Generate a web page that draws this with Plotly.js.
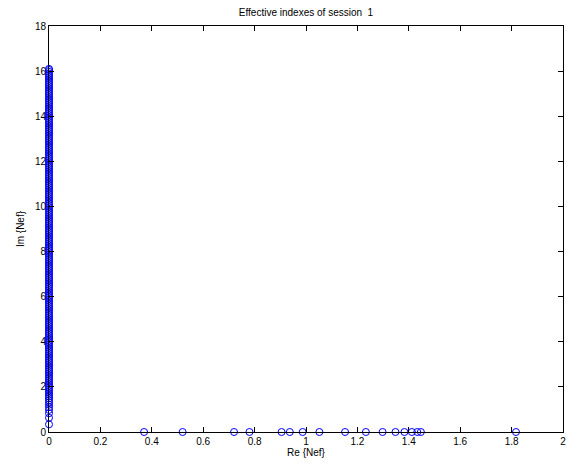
<!DOCTYPE html>
<html>
<head>
<meta charset="utf-8">
<script src="https://cdn.plot.ly/plotly-3.0.1.min.js"></script>
<style>html,body{margin:0;padding:0;background:#fff;}#chart{width:568px;height:470px;}</style>
</head>
<body>
<div id="chart"></div>
<script>
// Effective indexes lying on the real axis (Im = 0)
const realParts = [0.37, 0.52, 0.72, 0.78, 0.905, 0.937, 0.987, 1.052, 1.152, 1.233, 1.298, 1.348, 1.383, 1.412, 1.433, 1.447, 1.817];
// Effective indexes lying on the imaginary axis (Re = 0)
const imagParts = [0.34, 0.63, 0.83, 0.98, 1.1, 1.21, 1.31, 1.40, 1.49, 1.57, 1.65, 1.73, 1.81, 1.89, 1.97, 2.05, 2.13, 2.21, 2.29, 2.37, 2.45, 2.53, 2.61, 2.69, 2.77, 2.85, 2.93, 3.01, 3.09, 3.17, 3.25, 3.33, 3.41, 3.49, 3.57, 3.65, 3.73, 3.81, 3.89, 3.97, 4.05, 4.13, 4.21, 4.29, 4.37, 4.45, 4.53, 4.61, 4.69, 4.77, 4.85, 4.93, 5.01, 5.09, 5.17, 5.25, 5.33, 5.41, 5.49, 5.57, 5.65, 5.73, 5.81, 5.89, 5.97, 6.05, 6.13, 6.21, 6.29, 6.37, 6.45, 6.53, 6.61, 6.69, 6.77, 6.85, 6.93, 7.01, 7.09, 7.17, 7.25, 7.33, 7.41, 7.49, 7.57, 7.65, 7.73, 7.81, 7.89, 7.97, 8.05, 8.13, 8.21, 8.29, 8.37, 8.45, 8.53, 8.61, 8.69, 8.77, 8.85, 8.93, 9.01, 9.09, 9.17, 9.25, 9.33, 9.41, 9.49, 9.57, 9.65, 9.73, 9.81, 9.89, 9.97, 10.05, 10.13, 10.21, 10.29, 10.37, 10.45, 10.53, 10.61, 10.69, 10.77, 10.85, 10.93, 11.01, 11.09, 11.17, 11.25, 11.33, 11.41, 11.49, 11.57, 11.65, 11.73, 11.81, 11.89, 11.97, 12.05, 12.13, 12.21, 12.29, 12.37, 12.45, 12.53, 12.61, 12.69, 12.77, 12.85, 12.93, 13.01, 13.09, 13.17, 13.25, 13.33, 13.41, 13.49, 13.57, 13.65, 13.73, 13.81, 13.89, 13.97, 14.05, 14.13, 14.21, 14.29, 14.37, 14.45, 14.53, 14.61, 14.69, 14.77, 14.85, 14.93, 15.01, 15.09, 15.17, 15.25, 15.33, 15.41, 15.49, 15.57, 15.65, 15.73, 15.81, 15.89, 15.97, 16.05, 16.1];
const xTickVals = [0, 0.2, 0.4, 0.6, 0.8, 1, 1.2, 1.4, 1.6, 1.8, 2];
const xTickText = ['0', '0.2', '0.4', '0.6', '0.8', '1', '1.2', '1.4', '1.6', '1.8', '2'];
const yTickVals = [0, 2, 4, 6, 8, 10, 12, 14, 16, 18];
const yTickText = ['0', '2', '4', '6', '8', '10', '12', '14', '16', '18'];

const xs = imagParts.map(() => 0).concat(realParts);
const ys = imagParts.slice().concat(realParts.map(() => 0));

const font = {family: 'Liberation Sans, Arial, sans-serif', size: 10, color: '#000'};
const trace = {
  x: xs, y: ys, type: 'scatter', mode: 'markers',
  marker: {symbol: 'circle-open', size: 7, color: '#0000ff', line: {width: 1, color: '#0000ff'}},
  cliponaxis: false, hoverinfo: 'none'
};
const axisCommon = {
  showgrid: false, zeroline: false, showline: true, linecolor: '#000', linewidth: 1,
  mirror: 'ticks', ticks: 'inside', ticklen: 5, tickcolor: '#000', tickwidth: 1,
  tickfont: font, tickmode: 'array', automargin: false
};
const layout = {
  width: 568, height: 470,
  margin: {l: 49, r: 5, t: 26, b: 38},
  paper_bgcolor: '#fff', plot_bgcolor: '#fff',
  showlegend: false,
  font: font,
  title: {text: 'Effective indexes of session  1', font: font, x: 0.5, xanchor: 'center', y: 1 - 12/470, yanchor: 'middle', xref: 'paper'},
  xaxis: Object.assign({}, axisCommon, {range: [0, 2], tickvals: xTickVals, ticktext: xTickText,
    title: {text: 'Re {Nef}', font: font, standoff: 2}}),
  yaxis: Object.assign({}, axisCommon, {range: [0, 18], tickvals: yTickVals, ticktext: yTickText,
    title: {text: 'Im {Nef}', font: font, standoff: 8}})
};
Plotly.newPlot('chart', [trace], layout, {staticPlot: true, displayModeBar: false});
</script>
</body>
</html>
